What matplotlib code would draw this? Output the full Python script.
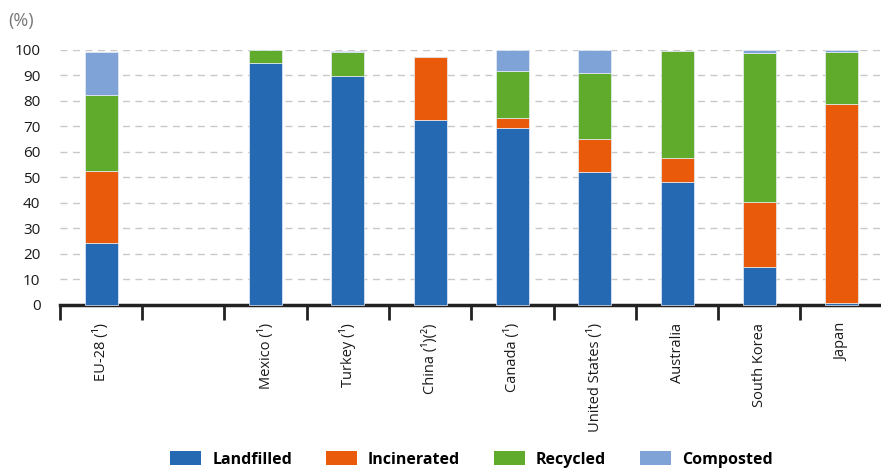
import numpy as np
import matplotlib.pyplot as plt
from matplotlib.patches import Patch

plt.rcParams['font.family'] = ['Open Sans', 'DejaVu Sans']

countries = ['EU-28 (¹)', '', 'Mexico (¹)', 'Turkey (¹)', 'China (¹)(²)', 'Canada (¹)',
             'United States (¹)', 'Australia', 'South Korea', 'Japan']
landfilled = [24.4, 0, 94.8, 89.9, 72.5, 69.5, 52.3, 48.4, 14.8, 0.9]
incinerated = [28.0, 0, 0, 0, 24.8, 3.8, 12.9, 9.4, 25.7, 78.0]
recycled = [29.9, 0, 5.2, 9.3, 0, 18.6, 25.7, 41.9, 58.4, 20.4]
composted = [16.9, 0, 0, 0.6, 0, 8.0, 9.1, 0, 1.0, 0.7]

series = [('Landfilled', landfilled, '#2569b2'),
          ('Incinerated', incinerated, '#e95a0a'),
          ('Recycled', recycled, '#60ab2c'),
          ('Composted', composted, '#7fa3d6')]

fig = plt.figure(figsize=(8.81, 4.69), dpi=100)
ax = fig.add_axes([0.068, 0.3497, 0.934, 0.5437])

x = np.arange(len(countries))
bottom = np.zeros(len(countries))
for name, vals, col in series:
    vals = np.array(vals)
    keep = vals > 0
    ax.bar(x[keep], vals[keep], width=0.4, bottom=bottom[keep], color=col,
           edgecolor='#e8eef8', linewidth=0.5, zorder=3, clip_on=False)
    bottom += vals

ax.set_xlim(-0.5, len(countries) - 0.5)
ax.set_ylim(0, 100)
ax.set_yticks(range(0, 101, 10))
ax.tick_params(axis='y', length=0, labelsize=11, pad=14, colors='#1a1a1a')
ax.yaxis.grid(True, linestyle=(0, (5, 4)), color='#c8c8c8', linewidth=1)
ax.set_axisbelow(True)

# category labels in the middle, ticks on the boundaries
ax.set_xticks(x)
ax.set_xticklabels(countries, rotation=90, fontsize=10.5, color='#1a1a1a')
ax.tick_params(axis='x', which='major', length=0, pad=13)
ax.set_xticks(np.arange(-0.5, len(countries), 1), minor=True)
ax.tick_params(axis='x', which='minor', length=11, width=2, color='#222222', direction='out')

for s in ['top', 'right', 'left']:
    ax.spines[s].set_visible(False)
ax.spines['bottom'].set_linewidth(2.5)
ax.spines['bottom'].set_color('#222222')

fig.text(0.009, 0.955, '(%)', fontsize=13, color='#777777', va='center')

handles = [Patch(facecolor=c, edgecolor='none', label=n) for n, v, c in series]
fig.legend(handles=handles, loc='lower center', bbox_to_anchor=(0.535, -0.028), ncol=4,
           frameon=False, prop={'weight': 'bold', 'size': 11.5}, handlelength=1.95,
           handleheight=0.95, handletextpad=0.7, columnspacing=2.1)

fig.savefig('out.png', dpi=100)
